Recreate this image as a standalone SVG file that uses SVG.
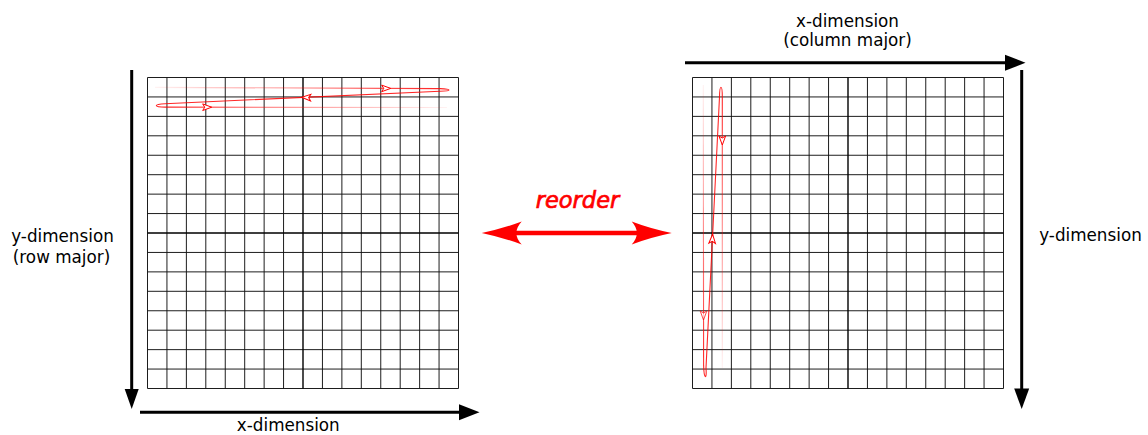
<svg xmlns="http://www.w3.org/2000/svg" width="1148" height="435" viewBox="0 0 1148 435">
<style>
.gl{fill:none;stroke:#111;stroke-width:0.95}
.gc{fill:none;stroke:#000;stroke-width:1.4}
.ax{fill:none;stroke:#000;stroke-width:3}
.axh{fill:#000;stroke:none}
.lbl{font-family:"DejaVu Sans",sans-serif;font-size:16.8px;fill:#000;text-anchor:middle}
.tr{fill:none;stroke-width:1.1}
.ah{fill:#fff;stroke:#f00;stroke-width:1}
</style>
<defs>
<g id="grid">
<rect x="0" y="0" width="311" height="311" fill="#fff"/>
<path class="gl" d="M0,0V311M19.44,0V311M38.88,0V311M58.31,0V311M77.75,0V311M97.19,0V311M116.63,0V311M136.06,0V311M174.94,0V311M194.38,0V311M213.81,0V311M233.25,0V311M252.69,0V311M272.13,0V311M291.56,0V311M311,0V311M0,0H311M0,19.44H311M0,38.88H311M0,58.31H311M0,77.75H311M0,97.19H311M0,116.63H311M0,136.06H311M0,174.94H311M0,194.38H311M0,213.81H311M0,233.25H311M0,252.69H311M0,272.13H311M0,291.56H311M0,311H311"/>
<path class="gc" d="M155.5,0V311M0,155.5H311"/>
</g>
<path id="ah" d="M0,0L-9,-3.3L-7,0L-9,3.3Z"/>
<linearGradient id="gTopL" gradientUnits="userSpaceOnUse" x1="155" y1="0" x2="440" y2="0">
<stop offset="0" stop-color="#f00" stop-opacity="0.05"/><stop offset="1" stop-color="#f00" stop-opacity="0.85"/>
</linearGradient>
<linearGradient id="gBotL" gradientUnits="userSpaceOnUse" x1="165" y1="0" x2="447" y2="0">
<stop offset="0" stop-color="#f00" stop-opacity="0.85"/><stop offset="1" stop-color="#f00" stop-opacity="0.05"/>
</linearGradient>
<linearGradient id="gLeftR" gradientUnits="userSpaceOnUse" x1="0" y1="85" x2="0" y2="370">
<stop offset="0" stop-color="#f00" stop-opacity="0.05"/><stop offset="1" stop-color="#f00" stop-opacity="0.85"/>
</linearGradient>
<linearGradient id="gRightR" gradientUnits="userSpaceOnUse" x1="0" y1="95" x2="0" y2="368">
<stop offset="0" stop-color="#f00" stop-opacity="0.85"/><stop offset="1" stop-color="#f00" stop-opacity="0.05"/>
</linearGradient>
</defs>

<g id="left-grid">
<use href="#grid" x="147.5" y="77.5"/>
</g>
<g id="right-grid">
<use href="#grid" x="692.5" y="77.5"/>
</g>

<g id="left-trace">
<path class="tr" stroke="url(#gTopL)" d="M155,87.4L440,88.6"/>
<path class="tr" stroke="#f00" stroke-opacity="0.85" d="M440,88.6C452,89 452,91 440,91.2L165,103.7C153,104.3 154,107 165,107.1"/>
<path class="tr" stroke="url(#gBotL)" d="M165,107.1L447,107.5"/>
<use href="#ah" class="ah" transform="translate(390.7,88.4)"/>
<use href="#ah" class="ah" transform="translate(301.7,97.2) rotate(182.7)"/>
<use href="#ah" class="ah" transform="translate(211.7,107.2)"/>
</g>

<g id="right-trace">
<path class="tr" stroke="url(#gLeftR)" d="M703.3,85L703.6,365"/>
<path class="tr" stroke="#f00" stroke-opacity="0.85" d="M703.6,365C704,380 707,380 706,368L719.5,97C719.7,84 722.3,84 722.3,97"/>
<path class="tr" stroke="url(#gRightR)" d="M722.3,97L722.3,368"/>
<use href="#ah" class="ah" transform="translate(722.3,145) rotate(90)"/>
<use href="#ah" class="ah" transform="translate(712.6,234.3) rotate(-87.2)"/>
<use href="#ah" class="ah" transform="translate(703.5,320) rotate(90)" opacity="0.7"/>
</g>

<g id="connectors">
<path class="ax" d="M131.7,70V392"/>
<path class="axh" d="M131.7,409L124.7,389L138.7,389Z"/>
<path class="ax" d="M140,412.3H461"/>
<path class="axh" d="M479.5,412.3L459,404.3L459,420.3Z"/>
<path class="ax" d="M685,62.7H1007"/>
<path class="axh" d="M1025.5,62.7L1005,54.7L1005,70.7Z"/>
<path class="ax" d="M1021.7,70V390"/>
<path class="axh" d="M1021.7,409L1014.2,388.5L1029.2,388.5Z"/>
<path d="M505,233H648" fill="none" stroke="#f00" stroke-width="4.5"/>
<path d="M481.7,233Q503,228.5 521.7,221.5Q511,233 521.7,244.5Q503,237.5 481.7,233Z" fill="#f00"/>
<path d="M671.7,233Q650,228.5 631.7,221.5Q642,233 631.7,244.5Q650,237.5 671.7,233Z" fill="#f00"/>
</g>

<g id="labels">
<text class="lbl" x="288.3" y="431">x-dimension</text>
<text class="lbl" x="847.5" y="26.5">x-dimension</text>
<text class="lbl" x="847.5" y="46">(column major)</text>
<text class="lbl" x="62.5" y="241.5">y-dimension</text>
<text class="lbl" x="61.5" y="263">(row major)</text>
<text class="lbl" x="1090.5" y="241">y-dimension</text>
<text x="577.5" y="208" font-family="'DejaVu Sans',sans-serif" font-style="italic" font-size="22.5" fill="#f00" stroke="#f00" stroke-width="0.7" text-anchor="middle">reorder</text>
</g>
</svg>
